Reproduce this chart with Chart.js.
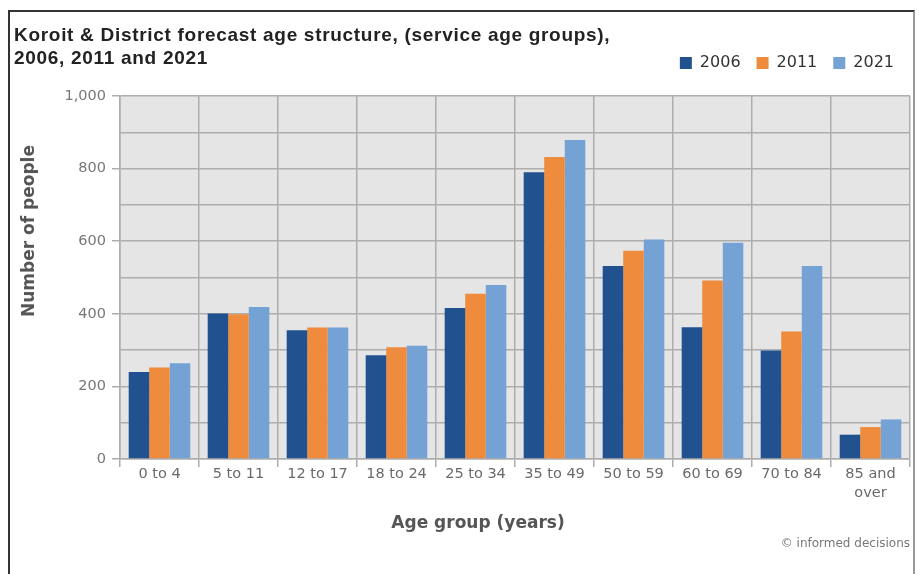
<!DOCTYPE html>
<html>
<head>
<meta charset="utf-8">
<script src="https://cdn.jsdelivr.net/npm/chart.js@4"></script>
<style>
  body { margin: 0; background: #fff; }
  #wrap { position: relative; width: 919px; height: 574px; overflow: hidden; }
  #frame { position: absolute; left: 8px; top: 10px; width: 903px; height: 580px;
    border-left: 2px solid #333; border-top: 2px solid #333; border-right: 2px solid #999; }
  #title { position: absolute; left: 14px; top: 23px; font: bold 19px "Liberation Sans", sans-serif;
    letter-spacing: 0.7px; line-height: 23px; color: #222; }
  #credit { position: absolute; right: 9px; top: 536px; font: 12px "DejaVu Sans", sans-serif; color: #777; }
  .axis-title { position: absolute; font: bold 17px "DejaVu Sans", sans-serif; color: #555; white-space: nowrap; }
  #x-title { left: 478px; top: 522px; transform: translate(-50%, -50%); }
  #y-title { left: 28px; top: 231px; transform: translate(-50%, -50%) rotate(-90deg); }
  canvas { position: absolute; left: 0; top: 0; }
</style>
</head>
<body>
<div id="wrap">
  <div id="frame"></div>
  <canvas id="age-chart" width="919" height="574"></canvas>
  <div id="title">Koroit &amp; District forecast age structure, (service age groups),<br>2006, 2011 and 2021</div>
  <div class="axis-title" id="y-title">Number of people</div>
  <div class="axis-title" id="x-title">Age group (years)</div>
  <div id="credit">© informed decisions</div>
</div>
<script>
const ageGroups = ['0 to 4', '5 to 11', '12 to 17', '18 to 24', '25 to 34', '35 to 49',
  '50 to 59', '60 to 69', '70 to 84', ['85 and', 'over']];
const people2006 = [240, 401, 355, 286, 416, 790, 532, 363, 299, 67];
const people2011 = [252, 399, 362, 308, 455, 832, 574, 492, 351, 88];
const people2021 = [264, 419, 362, 312, 479, 879, 605, 596, 532, 109];

const ageChart = document.getElementById('age-chart');

Chart.defaults.font.family = '"DejaVu Sans", sans-serif';
Chart.defaults.color = '#6a6a6a';

// grey plot area behind the bars
const plotBackground = {
	id: 'plotBackground',
	beforeDraw(chart) {
		const {ctx, chartArea} = chart;
		ctx.save();
		ctx.fillStyle = '#e5e5e5';
		ctx.fillRect(chartArea.left, chartArea.top, chartArea.right - chartArea.left, chartArea.bottom - chartArea.top);
		ctx.restore();
	}
};

// push the plot down a bit below the legend
const legendSpace = {
	id: 'legendSpace',
	beforeInit(chart) {
		const fit = chart.legend.fit;
		chart.legend.fit = function () {
			fit.bind(chart.legend)();
			this.height += 15;
		};
	}
};

const gridColor = '#adadad';

const ageChartInstance = new Chart(ageChart, {
	type: 'bar',
	data: {
		labels: ageGroups,
		datasets: [
			{ label: '2006', data: people2006, backgroundColor: '#21518f' },
			{ label: '2011', data: people2011, backgroundColor: '#ee8b3c' },
			{ label: '2021', data: people2021, backgroundColor: '#75a2d5' }
		]
	},
	options: {
		responsive: false,
		animation: false,
		categoryPercentage: 0.78,
		barPercentage: 1,
		layout: { padding: { left: 9, right: 9, top: 39, bottom: 0 } },
		plugins: {
			legend: {
				position: 'top',
				align: 'end',
				labels: {
					boxWidth: 12,
					boxHeight: 12,
					padding: 16,
					color: '#333',
					font: { size: 16 }
				}
			},
			tooltip: { enabled: false }
		},
		scales: {
			x: {
				grid: { color: gridColor, lineWidth: 1.5, offset: true, tickLength: 8 },
				border: { color: gridColor, width: 1.5 },
				ticks: { color: '#6a6a6a', font: { size: 14.5, lineHeight: 1.3 }, padding: -2, maxRotation: 0 },
				afterFit(scale) { scale.height = 115; }
			},
			y: {
				min: 0,
				max: 1000,
				ticks: {
					stepSize: 100,
					color: '#777',
					font: { size: 14.5 },
					padding: 6,
					callback: (v) => v % 200 === 0 ? v.toLocaleString('en-US') : ''
				},
				grid: {
					color: gridColor,
					lineWidth: 1.5,
					tickLength: 8,
					tickColor: (c) => c.tick && c.tick.value % 200 === 0 ? gridColor : 'rgba(0,0,0,0)'
				},
				border: { color: gridColor, width: 1.5 },
				afterFit(scale) { scale.width = 111; }
			}
		}
	},
	plugins: [plotBackground, legendSpace]
});
</script>
</body>
</html>
